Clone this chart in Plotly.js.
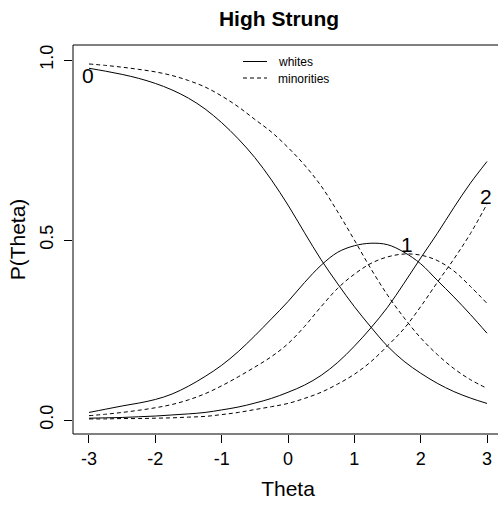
<!DOCTYPE html>
<html>
<head>
<meta charset="utf-8">
<script src="https://cdn.plot.ly/plotly-3.0.1.min.js"></script>
<style>
  html, body { margin: 0; padding: 0; overflow: hidden; background: #ffffff; }
  #chart { width: 504px; height: 506px; }
</style>
</head>
<body>
<div id="chart"></div>
<script>
// Category response curves for the "High Strung" item, by group.
const theta = [-3, -2.75, -2.5, -2.25, -2, -1.75, -1.5, -1.25, -1, -0.75, -0.5, -0.25,
               0, 0.25, 0.5, 0.75, 1, 1.25, 1.5, 1.75, 2, 2.25, 2.5, 2.75, 3];

const whitesCat0 = [0.977, 0.969, 0.960, 0.949, 0.935, 0.917, 0.894, 0.864, 0.826, 0.781, 0.729, 0.667,
                    0.597, 0.520, 0.445, 0.378, 0.315, 0.258, 0.205, 0.163, 0.130, 0.102, 0.079, 0.061, 0.046];
const whitesCat1 = [0.021, 0.030, 0.039, 0.047, 0.057, 0.072, 0.094, 0.121, 0.152, 0.190, 0.234, 0.281,
                    0.329, 0.382, 0.430, 0.466, 0.484, 0.491, 0.487, 0.466, 0.434, 0.388, 0.342, 0.293, 0.241];
const whitesCat2 = [0.005, 0.006, 0.007, 0.009, 0.011, 0.014, 0.017, 0.021, 0.028, 0.036, 0.047, 0.060,
                    0.077, 0.097, 0.124, 0.160, 0.205, 0.256, 0.313, 0.380, 0.450, 0.518, 0.590, 0.658, 0.718];

const minoritiesCat0 = [0.989, 0.985, 0.980, 0.974, 0.967, 0.957, 0.943, 0.925, 0.900, 0.870, 0.835, 0.800,
                        0.757, 0.708, 0.650, 0.578, 0.500, 0.420, 0.347, 0.284, 0.228, 0.182, 0.143, 0.112, 0.088];
const minoritiesCat1 = [0.012, 0.016, 0.021, 0.027, 0.034, 0.043, 0.056, 0.073, 0.095, 0.120, 0.147, 0.176,
                        0.212, 0.260, 0.315, 0.366, 0.405, 0.435, 0.453, 0.461, 0.458, 0.443, 0.414, 0.371, 0.324];
const minoritiesCat2 = [0.003, 0.003, 0.004, 0.004, 0.005, 0.006, 0.008, 0.010, 0.015, 0.021, 0.029, 0.037,
                        0.046, 0.060, 0.077, 0.100, 0.127, 0.162, 0.206, 0.254, 0.315, 0.382, 0.447, 0.518, 0.600];

const categoryLabels = ["0", "1", "2"];
const groupNames = ["whites", "minorities"];
const xTicks = [-3, -2, -1, 0, 1, 2, 3];
const xTickText = ["-3", "-2", "-1", "0", "1", "2", "3"];
const yTicks = [0, 0.5, 1];
const yTickText = ["0.0", "0.5", "1.0"];

const FONT = "Liberation Sans, Arial, Helvetica, sans-serif";
const solid = { color: "#000000", width: 1, dash: "solid" };
const dashed = { color: "#000000", width: 1, dash: "4px,3px" };

function curve(y, line) {
  return { x: theta, y: y, type: "scatter", mode: "lines",
           line: Object.assign({ shape: "spline", smoothing: 1 }, line),
           hoverinfo: "skip", showlegend: false };
}

const traces = [
  curve(whitesCat0, solid), curve(whitesCat1, solid), curve(whitesCat2, solid),
  curve(minoritiesCat0, dashed), curve(minoritiesCat1, dashed), curve(minoritiesCat2, dashed)
];

// plot area in pixels: left 73, top 45, width 430, height 389
const L = 73, T = 45, W = 430, H = 389;
function px(xPix) { return (xPix - L) / W; }
function py(yPix) { return 1 - (yPix - T) / H; }

// Category labels next to their curves, plus the group key text
const labelFont = { family: FONT, size: 21, color: "#000000" };
const keyFont = { family: FONT, size: 12, color: "#000000" };
const annotations = [
  { x: -3.02, y: 0.957, xref: "x", yref: "y", text: categoryLabels[0], showarrow: false, font: labelFont },
  { x: 1.79, y: 0.487, xref: "x", yref: "y", text: categoryLabels[1], showarrow: false, font: labelFont },
  { x: 2.98, y: 0.621, xref: "x", yref: "y", text: categoryLabels[2], showarrow: false, font: labelFont },
  { x: px(276), y: py(62), xref: "paper", yref: "paper", text: groupNames[0], showarrow: false,
    xanchor: "left", yanchor: "middle", font: keyFont },
  { x: px(276), y: py(79), xref: "paper", yref: "paper", text: groupNames[1], showarrow: false,
    xanchor: "left", yanchor: "middle", font: keyFont }
];

const shapes = [
  { type: "rect", xref: "paper", yref: "paper", x0: 0, x1: 1, y0: 0, y1: 1,
    line: { color: "#000000", width: 1 }, fillcolor: "rgba(0,0,0,0)" },
  { type: "line", xref: "paper", yref: "paper", x0: px(243), x1: px(267), y0: py(61.5), y1: py(61.5),
    line: solid },
  { type: "line", xref: "paper", yref: "paper", x0: px(243), x1: px(267), y0: py(78), y1: py(78),
    line: dashed }
];

const layout = {
  width: 504, height: 506,
  margin: { l: L, r: 504 - L - W, t: T, b: 506 - T - H, pad: 0 },
  paper_bgcolor: "#ffffff", plot_bgcolor: "#ffffff",
  font: { family: FONT, color: "#000000" },
  showlegend: false,
  title: { text: "<b>High Strung</b>", font: { family: FONT, size: 21, color: "#000000" },
           xref: "container", yref: "container", x: 279 / 504, y: 1 - 18.5 / 506,
           xanchor: "center", yanchor: "middle" },
  xaxis: {
    range: [-3.241, 3.241], tickmode: "array", tickvals: xTicks, ticktext: xTickText,
    ticks: "outside", ticklen: 8, tickwidth: 1, tickcolor: "#000000",
    showgrid: false, zeroline: false, showline: false,
    tickfont: { family: FONT, size: 18, color: "#000000" },
    title: { text: "Theta", font: { family: FONT, size: 21, color: "#000000" }, standoff: 13 },
    automargin: false, fixedrange: true
  },
  yaxis: {
    range: [-0.0389, 1.0417], tickmode: "array", tickvals: yTicks, ticktext: yTickText,
    tickangle: -90, ticklabelstandoff: 4,
    ticks: "outside", ticklen: 8, tickwidth: 1, tickcolor: "#000000",
    showgrid: false, zeroline: false, showline: false,
    tickfont: { family: FONT, size: 18, color: "#000000" },
    title: { text: "P(Theta)", font: { family: FONT, size: 21, color: "#000000" }, standoff: 5 },
    automargin: false, fixedrange: true
  },
  shapes: shapes,
  annotations: annotations
};

Plotly.newPlot("chart", traces, layout, { staticPlot: true, displayModeBar: false });
</script>
</body>
</html>
